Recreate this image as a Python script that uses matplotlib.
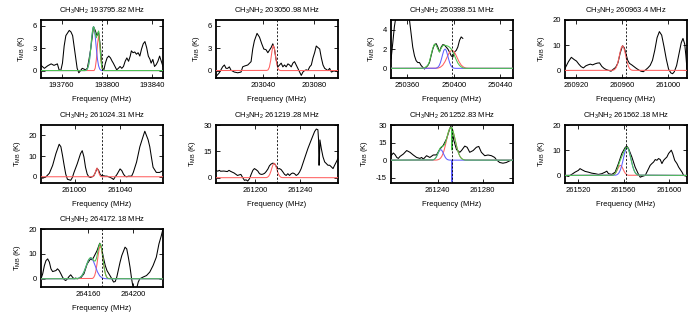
import matplotlib
matplotlib.use('Agg')
import matplotlib.pyplot as plt
import numpy as np

plt.rcParams['font.family'] = ['Liberation Sans', 'DejaVu Sans']
plt.rcParams['mathtext.fontset'] = 'custom'
plt.rcParams['mathtext.rm'] = 'Liberation Sans'
plt.rcParams['mathtext.it'] = 'Liberation Sans:italic'
plt.rcParams['axes.unicode_minus'] = False

# rest frequencies (MHz), one per panel
rest_freq = [193795.82, 203050.98, 250398.51, 260963.4, 261024.31,
             261219.28, 261252.83, 261562.18, 264172.18]

# --- observed spectra: offset from rest frequency (MHz) and T_MB (K) ---
df1 = [-54, -51, -48, -45, -42.5, -39.5, -38, -36.5, -35, -33.5, -32, -29, -27.5, -26, -25,
       -23.5, -22, -20.5, -19, -17.5, -16, -14.5, -13, -11.5, -10, -8.5, -7.5, -6, -4.5, -3,
       -1.5, 0, 1.5, 3, 4.5, 6, 7.5, 9, 10, 11.5, 13, 14.5, 16, 17.5, 19, 20.5, 22, 23.5, 25,
       26, 27.5, 29, 30.5, 32, 33.5, 35, 36.5, 38, 39.5, 41, 42.5, 43.5, 45, 46.5, 48, 49.5,
       51, 52.5, 54]
t1 = [0.7, 0.3, 0.65, 0.9, 0.7, 0.9, 0.1, 0.0, 1.0, 3.3, 4.7, 5.4, 5.2, 4.7, 3.6, 1.95, 0.3,
      -0.3, 0.0, 0.3, 0.2, 0.1, 0.3, 1.5, 2.9, 4.7, 5.9, 5.4, 4.7, 5.2, 3.3, 0.55, 0.0, 1.0,
      1.7, 1.95, 1.7, 1.25, 1.0, 0.55, 0.1, 0.3, 0.55, 0.3, 0.55, 1.25, 1.7, 1.25, 1.95, 2.65,
      2.4, 2.5, 2.2, 2.4, 1.95, 2.9, 3.6, 3.9, 3.1, 1.95, 1.5, 1.0, 1.5, 0.55, 0.8, 1.25, 1.95,
      1.25, 0.55]

df2 = [-48, -45.4, -42.8, -41.4, -40.1, -38.8, -37.5, -36.2, -33.6, -30.9, -28.3, -27, -25.7,
       -23, -20.4, -19.1, -17.8, -15.7, -13.8, -12, -10.4, -8.6, -7.2, -4.6, -3.3, -2, -0.7,
       0.7, 2, 3.3, 4.6, 5.9, 7.2, 8.6, 9.9, 11.2, 12.5, 13.8, 15.1, 16.4, 17.8, 19.1, 20.4,
       21.7, 23, 24.3, 25.7, 27, 28.3, 29.6, 30.9, 32.2, 33.6, 34.9, 36.2, 37.5, 38.8, 40.1,
       41.4, 42.8, 45.4, 48]
t2 = [-0.8, -0.3, 0.5, 0.75, 0.3, 0.3, 0.5, 0.05, -0.2, -0.3, -0.2, 0.5, 0.6, 0.75, 1.2, 2.9,
      4.0, 5.0, 4.5, 3.6, 2.9, 2.8, 2.4, 3.1, 3.6, 2.9, 1.45, 0.5, 0.75, 1.0, 0.5, 0.75, 0.5,
      0.9, 0.75, 0.5, 1.0, 1.2, 0.75, 0.3, -0.2, -0.65, -0.2, 0.0, 0.1, 0.0, 0.5, 0.75, 1.7,
      2.4, 3.3, 3.1, 2.9, 1.7, 0.75, 0.3, 0.15, 0.0, 0.3, -0.2, 0.0, -0.2]

df3 = [-52.4, -51, -49.6, -48.7, -46, -42, -38.5, -36.6, -35.2, -33.8, -32.3, -30.9, -29.5,
       -28, -26.6, -25.1, -23.7, -22.3, -20.8, -19.4, -18, -16.5, -15.1, -13.6, -12.2, -10.8,
       -9.3, -7.9, -6.5, -5, -3.6, -2.2, -0.7, 0.7, 2.2, 3.6, 5, 6.5, 7.9, 9.3]
t3 = [1.0, 2.6, 4.3, 5.0, 7.5, 8.0, 6.5, 5.0, 3.6, 2.2, 1.3, 0.8, 0.6, 0.6, 0.3, 0.1, -0.07,
      0.1, 0.3, 0.6, 1.3, 2.0, 2.45, 2.55, 2.2, 1.7, 2.2, 2.45, 2.4, 2.2, 2.0, 1.7, 1.3, 1.15,
      1.7, 1.85, 2.2, 2.9, 3.25, 3.1]

df4 = [-53, -50, -47.5, -45, -43, -41, -39, -37, -35, -33, -31, -29, -27, -25, -23, -21, -19,
       -17, -15, -13, -11, -9, -7, -5, -3, -1.5, 0, 1.5, 3, 5, 7, 9, 11, 13, 15, 17, 19, 21,
       23, 25, 27, 29, 31, 33, 35, 37, 39, 40.5, 42, 44, 46, 48, 49.5, 51, 52, 53]
t4 = [0.8, 3.5, 5.2, 4.3, 3.7, 2.5, 1.5, 1.0, 1.8, 2.2, 2.5, 2.2, 2.6, 2.9, 3.0, 1.6, 0.8, 0.3,
      0.0, -0.3, 0.5, 1.2, 3.0, 7.0, 9.8, 9.0, 6.5, 4.0, 2.8, 2.2, 1.5, 0.8, 0.2, -0.3, -0.5,
      0.2, 1.0, 2.0, 4.0, 8.0, 13.0, 15.4, 14.0, 9.5, 4.5, 0.5, -1.0, -1.3, -0.5, 2.0, 6.5,
      11.0, 12.7, 10.5, 6.0, 0.5]

df5 = [-54, -52.5, -49.6, -46.6, -43.7, -40.8, -37.9, -36.4, -35, -33.5, -32.1, -30.6, -27.7,
       -26.2, -24.8, -21.9, -19, -17.5, -16, -14.6, -13.1, -11.7, -10.2, -8.7, -7.3, -5.8,
       -4.4, -2.9, -1.5, 0, 1.5, 2.9, 4.4, 7.3, 8.7, 10.2, 11.7, 13.1, 16, 17.5, 19, 20.4,
       21.9, 23.3, 26.2, 27.7, 30.6, 33.5, 36.4, 37.9, 40.8, 42.3, 43.7, 45.2, 48.1, 51, 54]
t5 = [0.0, -0.7, 0.0, 1.7, 5.5, 11.2, 15.7, 14.5, 10.4, 5.5, 1.3, -1.2, -1.7, -0.3, 2.1, 6.3,
      11.2, 12.6, 9.6, 4.6, 1.3, 0.0, -0.3, 0.0, 0.5, 2.1, 4.1, 3.0, 1.0, 0.5, 0.5, 0.3, 0.3,
      -0.3, -0.7, -1.3, 0.0, 1.0, 3.8, 3.0, 1.3, 0.3, 0.0, 0.3, 0.3, 2.1, 7.1, 14.5, 19.5,
      22.0, 17.9, 14.5, 9.6, 4.6, 2.1, 2.1, 3.0]

df6 = [-54, -52.5, -51, -50, -47, -44, -42.5, -41, -38, -35, -32, -30.3, -28.8, -27.4, -25.9,
       -24.4, -22.9, -21.4, -20, -18.5, -17, -15.5, -14, -12.6, -11, -9.6, -8, -6.7, -5.2,
       -3.7, -2.2, -0.7, 0.7, 2.2, 3.7, 5.2, 6.7, 8.1, 9.6, 11.1, 12.6, 14, 15.5, 17, 18.5,
       20, 21.4, 22.9, 24.4, 27.4, 30.3, 33.3, 34.8, 36.2, 36.8, 37.1, 37.4, 38, 39.2, 40.7,
       42.2, 43.6, 45.1, 46.6, 48.1, 49.6, 51, 52.5, 54]
t6 = [4.2, 3.7, 4.2, 3.7, 3.8, 3.5, 4.2, 3.6, 2.7, 1.3, 1.9, 0.0, -1.5, -1.2, -1.9, -0.6, 1.9,
      4.2, 5.2, 4.6, 3.8, 2.3, 1.9, 2.0, 2.5, 3.5, 5.0, 6.8, 7.8, 8.3, 8.0, 6.5, 5.0, 5.2, 4.6,
      3.3, 1.9, 1.3, 2.3, 1.3, 2.3, 2.7, 2.3, 1.3, 1.9, 3.3, 5.2, 8.1, 11.0, 16.7, 21.5, 26.3,
      27.7, 27.3, 21.5, 7.1, 7.1, 21.5, 16.7, 11.9, 9.0, 8.1, 7.1, 7.1, 6.2, 5.2, 7.1, 9.0, 11.0]

df7 = [-54, -51.9, -50.4, -48.9, -47.5, -46, -43.1, -40.1, -37.2, -34.3, -31.3, -28.4, -26.9,
       -25.4, -24, -22.5, -19.6, -16.6, -13.7, -10.7, -7.8, -4.9, -1.9, -1, 0.4, 1.6, 4, 6.9,
       8.4, 11.3, 13.4, 15.7, 18.7, 21.6, 23.7, 26, 29, 31.9, 34.9, 37.8, 39.3, 42.2, 45.1,
       48.1, 51, 54]
t7 = [3.8, 6.1, 4.7, 2.3, 1.5, 3.2, 5.2, 8.2, 6.7, 4.4, 2.3, 1.5, 2.3, 0.9, 2.3, 3.8, 2.3, 4.4,
      4.5, 9.5, 12.5, 18.0, 27.0, 29.0, 24.0, 17.0, 9.0, 6.7, 8.2, 12.0, 11.0, 6.7, 8.2, 11.0,
      11.7, 6.7, 3.8, 4.4, 3.8, 2.3, 0.3, -2.0, -2.6, -2.0, -0.6, 0.3]

df8 = [-54, -51, -48.1, -45.1, -42.2, -40.7, -39.2, -36.2, -33.3, -30.3, -27.4, -24.4, -21.4,
       -18.5, -17, -15.5, -12.6, -9.6, -6.7, -3.7, -0.7, 0.7, 2.2, 5.2, 8.1, 11.1, 12.6, 14.1,
       17, 20, 21.4, 22.9, 24.4, 25.9, 27.4, 28.8, 30.3, 31.8, 33.3, 34.8, 36.2, 37.7, 40.1,
       41.3, 43.1, 45.1, 46.6, 49.6, 51, 54]
t8 = [0.0, -0.4, 0.4, 1.3, 2.0, 2.7, 2.3, 1.6, 1.3, 0.9, 0.7, 0.4, 0.7, 1.3, 1.7, 0.7, 0.4, 1.3,
      4.7, 8.7, 11.1, 11.6, 10.7, 7.3, 3.3, 0.4, -0.7, -0.4, 0.0, 2.7, 4.0, 4.7, 5.3, 6.3, 6.0,
      6.7, 6.3, 4.7, 6.0, 6.7, 7.3, 8.7, 10.0, 8.7, 6.0, 4.7, 3.3, 1.3, 0.0, -0.4]

df9 = [-54, -52.5, -51, -49.6, -48.1, -46.6, -45.2, -43.7, -40.8, -39.4, -37.9, -36.4, -35,
       -33.5, -32.1, -30.6, -29.2, -27.7, -26.2, -24.8, -23.3, -21.9, -19, -16, -13.1, -10.2,
       -8.7, -7.3, -4.4, -2, -0.6, 1.5, 2.9, 4.4, 7.3, 8.7, 10.2, 11.7, 13.1, 16, 17.5, 20.4,
       21.9, 23.3, 24.8, 26.2, 27.7, 29.2, 30.6, 32.1, 33.5, 36.4, 39.4, 42.3, 45.2, 48.1,
       50.4, 52.5, 54]
t9 = [0.0, 2.0, 5.3, 7.3, 8.0, 6.7, 4.0, 2.9, 3.3, 4.0, 3.3, 2.0, 0.7, -0.3, -0.7, 0.0, 0.9,
      1.6, 0.7, 0.0, 0.3, 0.0, 0.3, 2.0, 6.0, 8.0, 7.6, 8.7, 11.3, 14.3, 12.7, 8.0, 5.3, 3.3,
      1.1, 0.0, -1.3, -1.1, 0.7, 6.7, 9.3, 12.7, 12.0, 8.7, 4.7, 0.0, -4.0, -4.0, -4.0, -1.3,
      0.0, 0.7, 1.3, 2.7, 5.3, 8.7, 14.0, 17.3, 20.0]

# --- fitted components (red, blue) and their sum (green) ---
red1_df = [-60, -7, -6, -5, -4, -3, -2, -1, 0, 1, 2, 60]
red1_t = [0, 0, 0.33, 1.46, 3.5, 4.7, 3.5, 1.46, 0.33, 0.04, 0, 0]
blue1_df = [-60, -15, -14, -13, -12, -11, -10, -9, -8, -7.5, -7, -6, -5, -4, -3, -2, -1, 0, 60]
blue1_t = [0, 0, 0.05, 0.2, 0.62, 1.51, 2.95, 4.6, 5.74, 5.9, 5.74, 4.6, 2.95, 1.51, 0.62,
           0.2, 0.05, 0, 0]
sum1_df = [-60, -15, -14, -13, -12, -11, -10, -9, -8, -7.5, -7, -6, -5, -4, -3, -2, -1, 0, 1,
           2, 60]
sum1_t = [0, 0, 0.05, 0.2, 0.62, 1.51, 2.95, 4.6, 5.74, 5.9, 5.74, 4.93, 4.41, 5.01, 5.32,
          3.7, 1.51, 0.33, 0.04, 0, 0]

red2_df = [-60, -8, -7, -6, -5, -4, -3, -2, -1, 0, 1, 2, 3, 60]
red2_t = [0, 0.02, 0.1, 0.46, 1.32, 2.58, 3.37, 2.98, 1.8, 0.73, 0.2, 0.04, 0, 0]

red3_df = [-60, -14, -12, -10, -8, -6, -4, -2, 0, 2, 4, 6, 8, 10, 12, 14, 60]
red3_t = [0, 0.01, 0.03, 0.12, 0.32, 0.70, 1.22, 1.70, 1.9, 1.70, 1.22, 0.70, 0.32, 0.12,
          0.03, 0.01, 0]
blue3_df = [-60, -14, -13, -12, -11, -10, -9, -8, -7, -6, -5, -4, -3, -2, -1, 0, 1, 2, 3, 60]
blue3_t = [0, 0.01, 0.05, 0.13, 0.29, 0.58, 1.0, 1.46, 1.86, 2.0, 1.86, 1.46, 1.0, 0.58,
           0.29, 0.13, 0.05, 0.01, 0, 0]
sum3_df = [-60, -26.6, -23.7, -20.8, -19.4, -18, -16.5, -15.1, -13.6, -12.2, -10.8, -9.3,
           -7.9, -6.5, -5, -3.6, -2.2, -0.7, 0.7, 2.2, 3.6, 5, 6.5, 7.9, 9.3, 11.3, 60]
sum3_t = [0, 0, 0.05, 0.3, 0.7, 1.4, 2.1, 2.5, 2.4, 2.0, 1.7, 2.1, 2.35, 2.4, 2.35, 2.3, 2.2,
          2.0, 1.7, 1.3, 0.9, 0.55, 0.3, 0.15, 0.05, 0, 0]

red4_df = [-60, -12, -11, -10, -9, -8, -7, -6, -5, -4, -3, -2, -1, 0, 1, 2, 3, 4, 5, 6, 60]
red4_t = [0, 0.04, 0.12, 0.34, 0.83, 1.76, 3.27, 5.3, 7.45, 9.15, 9.8, 9.15, 7.45, 5.3,
          3.27, 1.76, 0.83, 0.34, 0.12, 0.04, 0]

red5_df = [-60, -8.4, -7.4, -6.4, -5.4, -4.4, -3.4, -2.4, -1.4, -0.4, 60]
red5_t = [0, 0.04, 0.3, 1.3, 3.13, 4.2, 3.13, 1.3, 0.3, 0.04, 0]

red6_df = [-60, -9.5, -8.5, -7.5, -6.5, -5.5, -4.5, -3.5, -2.5, -1.5, -0.5, 0.5, 1.5, 2.5,
           3.5, 4.5, 60]
red6_t = [0, 0.08, 0.27, 0.78, 1.8, 3.5, 5.6, 7.46, 8.2, 7.46, 5.6, 3.5, 1.8, 0.78, 0.27,
          0.08, 0]

red7_df = [-60, -14, -13, -12, -11, -10, -9, -8, -7, -6, -5, -4, -3, -2, -1, 0, 1, 2, 3, 4, 5,
           6, 7, 8, 9, 10, 11, 12, 60]
red7_t = [0, 0.08, 0.22, 0.5, 1.0, 1.9, 3.3, 5.5, 8.4, 12.2, 16.4, 20.7, 24.5, 27.1, 28,
          27.1, 24.5, 20.7, 16.4, 12.2, 8.4, 5.5, 3.3, 1.9, 1.0, 0.5, 0.22, 0.08, 0]
blue7_df = [-60, -17, -16, -15, -14, -13, -12, -11, -10, -9, -8, -7, -6, -5, -4, -3, -2,
            -0.3, 0.0, 0.3, 60]
blue7_t = [0, 0.18, 0.5, 1.2, 2.5, 4.4, 6.5, 8.3, 9.0, 8.3, 6.5, 4.4, 2.5, 1.2, 0.5, 0.18,
           0.05, 0, -18.5, 0, 0]
sum7_df = [-60, -17, -16, -15, -14, -13, -12, -11, -10, -9, -8, -7, -6, -5, -4, -3, -2, -1,
           -0.3, 0.0, 0.3, 1, 2, 3, 4, 5, 6, 7, 8, 9, 10, 11, 12, 60]
sum7_t = [0, 0.2, 0.52, 1.24, 2.58, 4.62, 7.0, 9.3, 10.9, 11.6, 12.0, 12.8, 14.7, 17.6,
          21.2, 24.7, 27.15, 28, 27.6, 8.6, 26.8, 24.5, 20.7, 16.4, 12.2, 8.4, 5.5, 3.3, 1.9,
          1.0, 0.5, 0.22, 0.08, 0]

red8_df = [-60, -12, -11, -10, -9, -8, -7, -6, -5, -4, -3, -2, -1, 0, 1, 2, 60]
red8_t = [0, 0.08, 0.22, 0.54, 1.11, 1.95, 2.9, 3.7, 4, 3.7, 2.9, 1.95, 1.11, 0.54, 0.22,
          0.08, 0]
blue8_df = [-60, -9, -8, -7, -6, -5, -4, -3, -2, -1, 0, 1, 2, 3, 4, 5, 6, 7, 8, 9, 10, 11, 60]
blue8_t = [0, 0.12, 0.28, 0.6, 1.19, 2.15, 3.52, 5.3, 7.3, 9.17, 10.5, 11, 10.5, 9.17, 7.3,
           5.3, 3.52, 2.15, 1.19, 0.6, 0.28, 0.12, 0]
sum8_df = [-60, -12, -11, -10, -9, -8, -7, -6, -5, -4, -3, -2, -1, 0, 1, 2, 3, 4, 5, 6, 7, 8,
           9, 10, 11, 60]
sum8_t = [0, 0.08, 0.22, 0.54, 1.23, 2.23, 3.5, 4.89, 6.15, 7.22, 8.2, 9.25, 10.28, 11.04,
          11.22, 10.58, 9.17, 7.3, 5.3, 3.52, 2.15, 1.19, 0.6, 0.28, 0.12, 0]

red9_df = [-60, -8.5, -7.5, -6.5, -5.5, -4.5, -3.5, -2.5, -1.5, -0.5, 0.5, 1.5, 2.5, 3.5, 4.5,
           5.5, 60]
red9_t = [0, 0.13, 0.44, 1.27, 2.93, 5.72, 9.12, 12.1, 13.3, 12.1, 9.12, 5.72, 2.93, 1.27,
          0.44, 0.13, 0]
blue9_df = [-60, -24, -22, -20, -18, -16, -14, -12, -10, -8, -6, -4, -2, 0, 2, 4, 60]
blue9_t = [0, 0.02, 0.09, 0.37, 1.15, 2.76, 5.2, 7.5, 8.5, 7.5, 5.2, 2.76, 1.15, 0.37, 0.09,
           0.02, 0]
sum9_df = [-60, -24, -22, -20, -18, -17, -16, -15, -14, -13, -12, -11, -10, -9, -8, -7, -6,
           -5, -4, -3, -2, -1, 0, 1, 2, 3, 4, 5, 6, 7, 60]
sum9_t = [0, 0.02, 0.09, 0.37, 1.15, 1.84, 2.76, 3.89, 5.16, 6.42, 7.5, 8.24, 8.5, 8.31,
          7.75, 7.19, 7.13, 8.08, 10.14, 12.6, 14.15, 13.68, 11.13, 7.58, 4.28, 2.01, 0.79,
          0.26, 0.07, 0.02, 0]

# axis setup per panel
half_width = [54, 48, 52.5, 53, 54, 54, 54, 54, 54]
y_limits = [(-1, 6.8), (-1, 6.8), (-1, 5), (-3, 20), (-3, 25), (-3, 30), (-19.5, 30),
            (-3, 20), (-3.3, 20)]
y_ticks = [[0, 3, 6], [0, 3, 6], [0, 2, 4], [0, 10, 20], [0, 10, 20], [0, 15, 30],
           [-15, 0, 15, 30], [0, 10, 20], [0, 10, 20]]
x_ticks = [[193760, 193800, 193840], [203040, 203080], [250360, 250400, 250440],
           [260920, 260960, 261000], [261000, 261040], [261200, 261240], [261240, 261280],
           [261520, 261560, 261600], [264160, 264200]]

spectra = [(df1, t1), (df2, t2), (df3, t3), (df4, t4), (df5, t5), (df6, t6), (df7, t7),
           (df8, t8), (df9, t9)]
reds = [(red1_df, red1_t), (red2_df, red2_t), (red3_df, red3_t), (red4_df, red4_t),
        (red5_df, red5_t), (red6_df, red6_t), (red7_df, red7_t), (red8_df, red8_t),
        (red9_df, red9_t)]
blues = [(blue1_df, blue1_t), None, (blue3_df, blue3_t), None, None, None,
         (blue7_df, blue7_t), (blue8_df, blue8_t), (blue9_df, blue9_t)]
sums = [(sum1_df, sum1_t), None, (sum3_df, sum3_t), None, None, None,
        (sum7_df, sum7_t), (sum8_df, sum8_t), (sum9_df, sum9_t)]

# panel frames in pixels: left, top, width, height (figure 700 x 315)
col_left = [41, 216, 391, 565]
row_top = [20, 125, 229]
pw, ph = 122, 58

fig = plt.figure(figsize=(7, 3.15), dpi=100)

for i in range(9):
    r, c = divmod(i, 4)
    l = col_left[c]
    t = row_top[r]
    ax = fig.add_axes([l / 700, 1 - (t + ph) / 315, pw / 700, ph / 315])
    f0 = rest_freq[i]

    x, y = spectra[i]
    ax.plot(f0 + np.array(x), y, color='black', lw=0.75, zorder=2)
    rx, ry = reds[i]
    ax.plot(f0 + np.array(rx), ry, color='#ff6060', lw=0.75, zorder=3)
    if blues[i] is not None:
        bx, by = blues[i]
        ax.plot(f0 + np.array(bx), by, color='#6060ff', lw=0.75, zorder=3)
    if sums[i] is not None:
        sx, sy = sums[i]
        ax.plot(f0 + np.array(sx), sy, color='#4cc54c', lw=0.75, zorder=4)

    ax.axvline(f0, color='black', lw=0.6, ls=(0, (2.5, 2)), zorder=5)

    ax.set_xlim(f0 - half_width[i], f0 + half_width[i])
    ax.set_ylim(*y_limits[i])
    ax.set_xticks(x_ticks[i])
    ax.set_xticklabels(['%d' % v for v in x_ticks[i]])
    ax.set_yticks(y_ticks[i])
    ax.set_yticklabels(['%d' % v for v in y_ticks[i]])
    ax.tick_params(direction='in', top=True, right=True, length=3, width=0.6,
                   labelsize=5.5, pad=3)
    for sp in ax.spines.values():
        sp.set_linewidth(1.3)

    ax.set_title('CH$_3$NH$_2$ %s MHz' % ('%.2f' % f0).rstrip('0'), fontsize=5.5, pad=5)
    ax.set_xlabel('Frequency (MHz)', fontsize=5.5, labelpad=5)
    ax.set_ylabel(r'T$_{\mathrm{MB}}$ (K)', fontsize=5.5, labelpad=4)

plt.savefig('out.png', dpi=100)
